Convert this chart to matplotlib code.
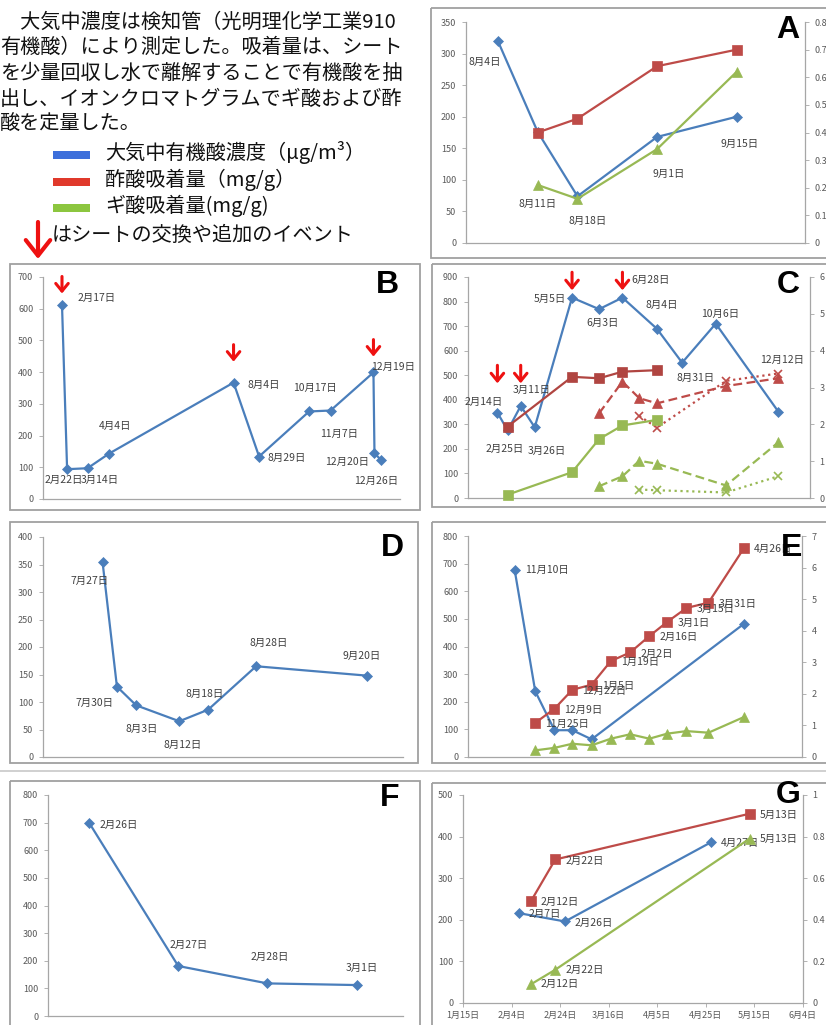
import matplotlib
matplotlib.use("Agg")
import matplotlib.pyplot as plt
import matplotlib.dates as mdates
from matplotlib.patches import Rectangle
from matplotlib.ticker import FuncFormatter, MultipleLocator
import pandas as pd

plt.rcParams["font.family"] = ["Noto Sans CJK JP", "DejaVu Sans"]

W, H = 826, 1025

BLUE = "#4A7EBB"
RED = "#BE4B48"
GREEN = "#98B954"
AXIS = "#A6A6A6"
TICK = "#595959"
LABEL = "#404040"
FRAME = "#A0A0A0"

# ---- data ---------------------------------------------------------------
# A
a_air_dates = ["2011-08-04", "2011-08-11", "2011-08-18", "2011-09-01", "2011-09-15"]
a_air = [320, 176, 74, 168, 200]
a_sheet_dates = ["2011-08-11", "2011-08-18", "2011-09-01", "2011-09-15"]
a_acetic = [0.40, 0.45, 0.64, 0.70]
a_formic = [0.21, 0.16, 0.34, 0.62]

# B
b_dates = ["2011-02-17", "2011-02-22", "2011-03-14", "2011-04-04", "2011-08-04",
           "2011-08-29", "2011-10-17", "2011-11-07", "2011-12-19", "2011-12-20",
           "2011-12-26"]
b_air = [613, 94, 97, 143, 367, 134, 276, 279, 399, 145, 124]
b_events = ["2011-02-17", "2011-08-04", "2011-12-19"]

# C
c_dates = ["2011-02-14", "2011-02-25", "2011-03-11", "2011-03-26", "2011-05-05",
           "2011-06-03", "2011-06-28", "2011-08-04", "2011-08-31", "2011-10-06",
           "2011-12-12"]
c_air = [348, 275, 375, 288, 816, 769, 816, 689, 551, 710, 352]
c_sheet1_dates = ["2011-02-25", "2011-05-05", "2011-06-03", "2011-06-28", "2011-08-04"]
c_sheet1_acetic = [1.94, 3.29, 3.25, 3.43, 3.47]
c_sheet1_formic = [0.09, 0.70, 1.60, 1.97, 2.12]
c_sheet2_dates = ["2011-06-03", "2011-06-28", "2011-07-16", "2011-08-04", "2011-10-17",
                  "2011-12-12"]
c_sheet2_acetic = [2.30, 3.16, 2.71, 2.57, 3.04, 3.25]
c_sheet2_formic = [0.32, 0.59, 1.01, 0.93, 0.34, 1.51]
c_sheet3_dates = ["2011-07-16", "2011-08-04", "2011-10-17", "2011-12-12"]
c_sheet3_acetic = [2.23, 1.91, 3.18, 3.38]
c_sheet3_formic = [0.23, 0.21, 0.15, 0.59]
c_events = ["2011-02-14", "2011-03-11", "2011-05-05", "2011-06-28"]

# D
d_dates = ["2011-07-27", "2011-07-30", "2011-08-03", "2011-08-12", "2011-08-18",
           "2011-08-28", "2011-09-20"]
d_air = [355, 128, 94, 65, 86, 165, 148]

# E
e_air_dates = ["2010-11-10", "2010-11-25", "2010-12-09", "2010-12-22", "2011-01-05",
               "2011-04-26"]
e_air = [678, 238, 97, 97, 64, 483]
e_sheet_dates = ["2010-11-25", "2010-12-09", "2010-12-22", "2011-01-05", "2011-01-19",
                 "2011-02-02", "2011-02-16", "2011-03-01", "2011-03-15", "2011-03-31",
                 "2011-04-26"]
e_acetic = [1.08, 1.53, 2.13, 2.29, 3.04, 3.31, 3.83, 4.28, 4.72, 4.89, 6.63]
e_formic = [0.21, 0.29, 0.42, 0.37, 0.58, 0.72, 0.58, 0.74, 0.82, 0.77, 1.27]

# F
f_dates = ["2011-02-26", "2011-02-27", "2011-02-28", "2011-03-01"]
f_air = [700, 181, 118, 112]

# G
g_air_dates = ["2011-02-07", "2011-02-26", "2011-04-27"]
g_air = [216, 196, 386]
g_sheet_dates = ["2011-02-12", "2011-02-22", "2011-05-13"]
g_acetic = [0.49, 0.69, 0.91]
g_formic = [0.09, 0.16, 0.79]
g_axis_start = "2011-01-15"


# ---- helpers ------------------------------------------------------------
def days(lst):
    return mdates.date2num(pd.to_datetime(lst).to_pydatetime())


def jp_date(num):
    d = mdates.num2date(num)
    return f"{d.month}月{d.day}日"


def make_panel(rect, ymax, ystep, right=None):
    x0, y0, x1, y1 = rect
    ax = fig.add_axes([x0 / W, 1 - y1 / H, (x1 - x0) / W, (y1 - y0) / H])
    ax.patch.set_visible(False)
    ax.set_ylim(0, ymax)
    ax.yaxis.set_major_locator(MultipleLocator(ystep))
    ax.yaxis.set_major_formatter(FuncFormatter(lambda v, p: f"{v:g}"))
    for s in ("top", "right"):
        ax.spines[s].set_visible(False)
    for s in ("left", "bottom"):
        ax.spines[s].set_color(AXIS)
        ax.spines[s].set_linewidth(0.9)
    ax.tick_params(axis="y", length=3, width=0.6, color=AXIS, labelsize=6.5,
                   labelcolor=TICK, pad=4)
    ax.tick_params(axis="x", bottom=False, labelbottom=False)
    ax2 = None
    if right is not None:
        rmax, rstep = right
        ax2 = ax.twinx()
        ax2.set_ylim(0, rmax)
        ax2.yaxis.set_major_locator(MultipleLocator(rstep))
        ax2.yaxis.set_major_formatter(FuncFormatter(lambda v, p: f"{v:g}"))
        for s in ("top", "left", "bottom"):
            ax2.spines[s].set_visible(False)
        ax2.spines["right"].set_color(AXIS)
        ax2.spines["right"].set_linewidth(0.9)
        ax2.tick_params(axis="y", length=3, width=0.6, color=AXIS, labelsize=6.5,
                        labelcolor=TICK, pad=4)
    return ax, ax2


def line(ax, x, y, color, marker, ms, ls="-"):
    ax.plot(x, y, color=color, lw=1.6, ls=ls, marker=marker, ms=ms,
            mew=1.2 if marker == "x" else 0.5, mec=color, clip_on=False)


def labels(ax, x, y, offsets, ha="center"):
    for xi, yi, (dx, dy) in zip(x, y, offsets):
        ax.annotate(jp_date(xi), (xi, yi), xytext=(dx, dy), textcoords="offset pixels",
                    ha=ha, va="center", fontsize=7.5, color=LABEL)


def event_arrows(ax, x, tips, length=17):
    for xi, ti in zip(x, tips):
        ax.annotate("", xy=(xi, ti), xytext=(0, length), textcoords="offset pixels",
                    xycoords="data", annotation_clip=False,
                    arrowprops=dict(arrowstyle="->,head_width=0.45,head_length=0.55",
                                    color="#EE1111", lw=2.2, shrinkA=0, shrinkB=0))


fig = plt.figure(figsize=(W / 100, H / 100), dpi=100)

# overlay in pixel coordinates for text, frames and legend
ov = fig.add_axes([0, 0, 1, 1], zorder=5)
ov.set_xlim(0, W)
ov.set_ylim(H, 0)
ov.axis("off")

# ---- A ------------------------------------------------------------------
ax, ax2 = make_panel((466, 22, 805, 243), 350, 50, right=(0.8, 0.1))
xa = days(a_air_dates)
xs = days(a_sheet_dates)
line(ax, xa, a_air, BLUE, "D", 5)
line(ax2, xs, a_acetic, RED, "s", 6.5)
line(ax2, xs, a_formic, GREEN, "^", 6.5)
labels(ax, xa, a_air, [(-13, -21), (0, -72), (10, -25), (12, -37), (3, -27)])
ax.set_xlim(xa[0] - 5.6, xa[0] + 54)

# ---- B ------------------------------------------------------------------
ax, _ = make_panel((43, 277, 400, 499), 700, 100)
xb = days(b_dates)
line(ax, xb, b_air, BLUE, "D", 5)
labels(ax, xb, b_air, [(35, 7), (-3, -11), (12, -12), (6, 28), (30, -2), (28, -1),
                       (6, 24), (9, -23), (20, 6), (-27, -9), (-4, -21)])
event_arrows(ax, days(b_events), [648, 433, 449])
ax.set_xlim(xb[0] - 18.6, xb[0] + 331)

# ---- C ------------------------------------------------------------------
ax, ax2 = make_panel((468, 277, 810, 498), 900, 100, right=(6, 1))
xc = days(c_dates)
line(ax, xc, c_air, BLUE, "D", 5)
x1, x2, x3 = days(c_sheet1_dates), days(c_sheet2_dates), days(c_sheet3_dates)
line(ax2, x1, c_sheet1_acetic, "#B04541", "s", 6.5)
line(ax2, x2, c_sheet2_acetic, RED, "^", 6.5, ls=(0, (4, 2)))
line(ax2, x3, c_sheet3_acetic, RED, "x", 6, ls=":")
line(ax2, x1, c_sheet1_formic, GREEN, "s", 6.5)
line(ax2, x2, c_sheet2_formic, GREEN, "^", 6.5, ls=(0, (4, 2)))
line(ax2, x3, c_sheet3_formic, GREEN, "x", 6, ls=":")
labels(ax, xc, c_air, [(-14, 11), (-3, -18), (11, 16), (12, -24), (-22, -1), (3, -14),
                       (28, 18), (5, 24), (13, -15), (4, 10), (4, 52)])
event_arrows(ax, days(c_events), [467, 467, 846, 846], length=18)
ax.set_xlim(xc[0] - 31.5, xc[0] + 335)

# ---- D ------------------------------------------------------------------
ax, _ = make_panel((43, 537, 403, 757), 400, 50)
xd = days(d_dates)
line(ax, xd, d_air, BLUE, "D", 5)
labels(ax, xd, d_air, [(-13, -19), (-22, -16), (6, -24), (3, -24), (-3, 16), (13, 23),
                       (-5, 20)])
ax.set_xlim(xd[0] - 12.4, xd[0] + 62.6)

# ---- E ------------------------------------------------------------------
ax, ax2 = make_panel((468, 536, 802, 757), 800, 100, right=(7, 1))
xe = days(e_air_dates)
xes = days(e_sheet_dates)
line(ax, xe, e_air, BLUE, "D", 5)
line(ax2, xes, e_acetic, RED, "s", 6.5)
line(ax2, xes, e_formic, GREEN, "^", 6.5)
labels(ax, xe[:1], e_air[:1], [(10, 0)], ha="left")
labels(ax2, xes, e_acetic, [(10, -1)] * len(xes), ha="left")
ax.set_xlim(xe[0] - 33.9, xe[0] + 209)

# ---- F ------------------------------------------------------------------
ax, _ = make_panel((48, 795, 403, 1016), 800, 100)
xf = days(f_dates)
line(ax, xf, f_air, BLUE, "D", 5)
labels(ax, xf[:1], f_air[:1], [(11, -2)], ha="left")
labels(ax, xf[1:], f_air[1:], [(10, 21), (2, 26), (5, 17)])
ax.set_xlim(xf[0] - 0.46, xf[0] + 3.52)

# ---- G ------------------------------------------------------------------
ax, ax2 = make_panel((463, 795, 803, 1003), 500, 100, right=(1, 0.2))
xg = days(g_air_dates)
xgs = days(g_sheet_dates)
line(ax, xg, g_air, BLUE, "D", 5)
line(ax2, xgs, g_acetic, RED, "s", 6.5)
line(ax2, xgs, g_formic, GREEN, "^", 6.5)
labels(ax, xg, g_air, [(10, -1)] * 3, ha="left")
labels(ax2, xgs, g_acetic, [(10, -1)] * 3, ha="left")
labels(ax2, xgs, g_formic, [(10, 0)] * 3, ha="left")
g0 = days([g_axis_start])[0]
g_ticks = [g0 + 20 * i for i in range(8)]
ax.set_xlim(g_ticks[0], g_ticks[-1])
ax.set_xticks(g_ticks)
ax.xaxis.set_major_formatter(FuncFormatter(lambda v, p: jp_date(v)))
ax.tick_params(axis="x", bottom=True, labelbottom=True, length=3, width=0.6,
               color=AXIS, labelsize=6.5, labelcolor=TICK, pad=3)

# ---- frames and panel letters --------------------------------------------
frames = {"A": (431, 8, 832, 258), "B": (10, 264, 420, 510), "C": (432, 264, 832, 507),
          "D": (10, 522, 418, 763), "E": (432, 522, 832, 763),
          "F": (10, 781, 420, 1030), "G": (432, 783, 832, 1030)}
letter_pos = {"A": (788, 30), "B": (387, 285), "C": (788, 285), "D": (392, 548),
              "E": (792, 548), "F": (390, 798), "G": (788, 795)}
for k, (x0, y0, x1, y1) in frames.items():
    ov.add_patch(Rectangle((x0, y0), x1 - x0, y1 - y0, fill=False, ec=FRAME, lw=1.3))
    lx, ly = letter_pos[k]
    ov.text(lx, ly, k, ha="center", va="center", fontsize=23, fontweight="bold",
            family=["Liberation Sans", "DejaVu Sans"], color="black")
ov.plot([0, W], [771, 771], color="#C8C8C8", lw=1.2)

# ---- description text and legend ----------------------------------------
desc = [
    "\u3000大気中濃度は検知管（光明理化学工業910",
    "有機酸）により測定した。吸着量は、シート",
    "を少量回収し水で離解することで有機酸を抽",
    "出し、イオンクロマトグラムでギ酸および酢",
    "酸を定量した。",
]
for i, s in enumerate(desc):
    ov.text(0, 22 + 25.7 * i, s, ha="left", va="center", fontsize=14.5, color="#111111")

legend_items = [("大気中有機酸濃度（μg/m³）", "#3D6FDB"),
                ("酢酸吸着量（mg/g）", "#E0392B"),
                ("ギ酸吸着量(mg/g)", "#8CC63F")]
for i, (s, c) in enumerate(legend_items):
    y = 155 + 26.5 * i
    ov.add_patch(Rectangle((53, y - 4), 37, 8, color=c, lw=0))
    ov.text(105, y - 2, s, ha="left", va="center", fontsize=14.5, color="#111111")

ov.annotate("", xy=(38, 259), xytext=(38, 222),
            arrowprops=dict(arrowstyle="->,head_width=0.55,head_length=0.7",
                            color="#EE1111", lw=3, shrinkA=0, shrinkB=0,
                            mutation_scale=16))
ov.text(52, 235, "はシートの交換や追加のイベント", ha="left", va="center",
        fontsize=14.5, color="#111111")

fig.savefig("out.png", dpi=100)
